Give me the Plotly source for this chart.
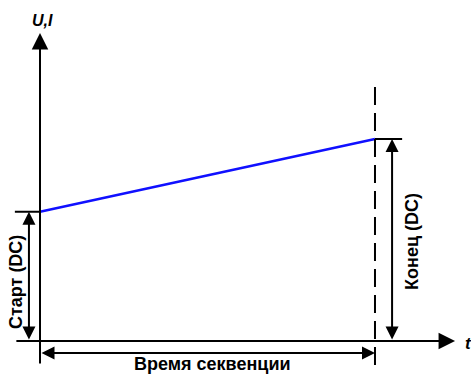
"""
Sequence ramp diagram: DC value goes from start to end over the sequence time
"""

import plotly.graph_objects as go

# sequence data (time normalised to 0..1, level in arbitrary units)
seq_time = [0.0, 1.0]
seq_level = [0.64, 1.0]

# labels
axis_y_label = "<b><i>U,I</i></b>"
axis_x_label = "<b><i>t</i></b>"
start_label = "<b>Старт (DC)</b>"
end_label = "<b>Конец (DC)</b>"
time_label = "<b>Время секвенции</b>"

FONT = "Liberation Sans, Arial, sans-serif"
BLACK = "#000000"

t0, t1 = seq_time
u0, u1 = seq_level

fig = go.Figure()

# ramp
fig.add_trace(go.Scatter(
    x=seq_time, y=seq_level, mode="lines",
    line=dict(color="#1010ff", width=2.5),
    hoverinfo="skip", showlegend=False
))

# helper lines (ticks and dashed end marker)
fig.add_shape(type="line", x0=t0 - 0.075, x1=t0, y0=u0, y1=u0,
              line=dict(color=BLACK, width=2))
fig.add_shape(type="line", x0=t1, x1=t1 + 0.081, y0=u1, y1=u1,
              line=dict(color=BLACK, width=2))
fig.add_shape(type="line", x0=t1, x1=t1, y0=-0.119, y1=1.277,
              line=dict(color=BLACK, width=2, dash="18px,8px"))


def arrow(x, y, ax, ay, both=False, size=1.3):
    fig.add_annotation(
        x=x, y=y, ax=ax, ay=ay, xref="x", yref="y", axref="x", ayref="y",
        text="", showarrow=True, arrowhead=2, arrowsize=size, arrowwidth=2,
        arrowside="end+start" if both else "end", startarrowhead=2,
        startarrowsize=size, arrowcolor=BLACK
    )


# axes with arrows
arrow(t0, 1.525, t0, -0.119, size=1.65)
arrow(1.239, 0, t0 - 0.075, 0, size=1.65)

# dimension arrows
arrow(t0 - 0.033, u0, t0 - 0.033, 0, both=True)
arrow(t1 + 0.051, u1, t1 + 0.051, 0, both=True)
arrow(t1, -0.059, t0, -0.059, both=True)

# text
fig.add_annotation(x=t0 + 0.008, y=1.585, text=axis_y_label, showarrow=False,
                   font=dict(size=16, color=BLACK, family=FONT))
fig.add_annotation(x=1.28, y=-0.01, text=axis_x_label, showarrow=False,
                   font=dict(size=17, color=BLACK, family=FONT))
fig.add_annotation(x=t0 - 0.07, y=u0 / 2 - 0.03, text=start_label,
                   showarrow=False, textangle=-90,
                   font=dict(size=18, color=BLACK, family=FONT))
fig.add_annotation(x=t1 + 0.11, y=u1 / 2 - 0.005, text=end_label,
                   showarrow=False, textangle=-90,
                   font=dict(size=18, color=BLACK, family=FONT))
fig.add_annotation(x=(t0 + t1) / 2 + 0.015, y=-0.115, text=time_label,
                   showarrow=False,
                   font=dict(size=18, color=BLACK, family=FONT))

fig.update_xaxes(range=[-0.1194, 1.2866], visible=False, fixedrange=True)
fig.update_yaxes(range=[-0.163, 1.688], visible=False, fixedrange=True)

fig.update_layout(
    width=471, height=374,
    margin=dict(l=0, r=0, t=0, b=0),
    plot_bgcolor="white", paper_bgcolor="white",
    showlegend=False
)

# page body has a default margin; drop it so the figure sits at the corner
fig.write_html("out.html", post_script="document.body.style.margin='0px';",
               config={"displayModeBar": False})
